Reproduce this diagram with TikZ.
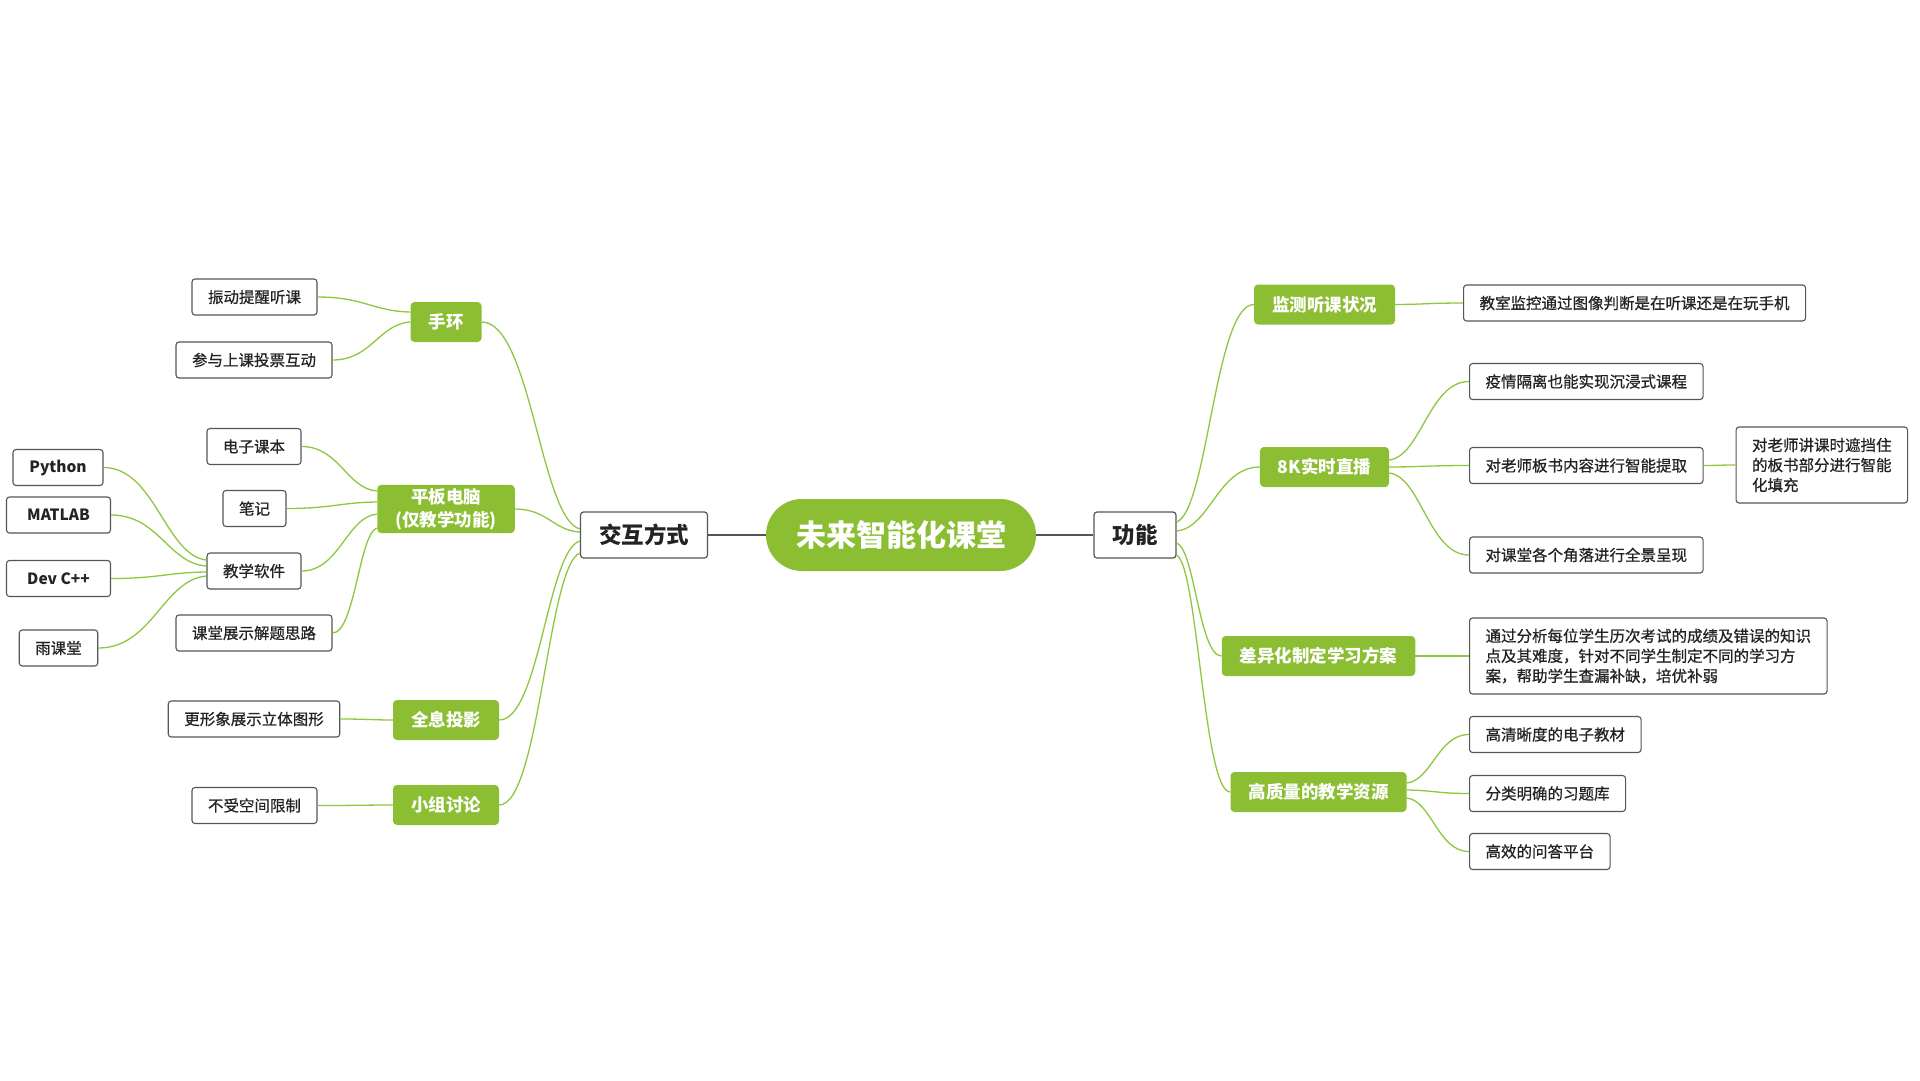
\documentclass[tikz,border=0pt]{standalone}
\usepackage{fontspec}
\setmainfont{Noto Sans CJK SC}
\newfontfamily\leaffont{Noto Sans CJK SC}[FakeBold=0.7]
\usepackage{tikz}
\usetikzlibrary{calc}

\definecolor{leafgreen}{RGB}{139,190,50}
\definecolor{linkgreen}{RGB}{141,198,63}
\definecolor{boxgray}{RGB}{85,85,85}
\definecolor{textgray}{RGB}{35,35,35}

\begin{document}
\begin{tikzpicture}[
  x=1pt, y=-1pt,
  root/.style={rectangle, rounded corners=36pt, fill=leafgreen, text=white,
               minimum width=270pt, minimum height=72pt, inner xsep=30pt,
               font=\fontsize{30}{36}\selectfont\bfseries},
  topic/.style={rectangle, draw=boxgray, line width=1.2pt, rounded corners=3pt,
                fill=white, text=textgray, minimum height=46pt, inner xsep=18.5pt,
                font=\fontsize{22.5}{27}\selectfont\bfseries},
  branch/.style={rectangle, rounded corners=4pt, fill=leafgreen, text=white,
                 minimum height=40pt, inner xsep=18pt, align=center,
                 font=\fontsize{17.5}{23}\selectfont\bfseries},
  leaf/.style={rectangle, draw=boxgray, line width=1.1pt, rounded corners=3pt,
               fill=white, text=textgray, minimum height=36pt, inner xsep=16pt,
               align=left, font=\leaffont\fontsize{15.5}{20}\selectfont},
  code/.style={leaf, font=\fontsize{15.5}{20}\selectfont\bfseries},
  trunk/.style={draw=boxgray, line width=2.2pt},
  link/.style={draw=linkgreen, line width=1.3pt,
    to path={let \p1=(\tikztostart), \p2=(\tikztotarget) in
      .. controls ({\x1+0.4*(\x2-\x1)},{\y1+0.05*(\y2-\y1)})
         and ({\x1+0.5*(\x2-\x1)},\y2) .. (\tikztotarget)}},
]
\useasboundingbox (0,0) rectangle (1920,1080);

% Centre and first level
\node[root] (center) at (901,535) {未来智能化课堂};
\node[topic] (jiaohu) at (644,535) {交互方式};
\node[topic] (gongneng) at (1135,535) {功能};

% Left: interaction
\node[branch] (shouhuan) at (446,322) {手环};
\node[leaf] (zhendong) at (254.5,297) {振动提醒听课};
\node[leaf] (toupiao) at (254,360) {参与上课投票互动};

\node[branch] (pingban) at (446,509) {平板电脑\\(仅教学功能)};
\node[leaf] (dianzi) at (254,446.5) {电子课本};
\node[leaf] (biji) at (254.5,508.5) {笔记};
\node[leaf] (ruanjian) at (254,571) {教学软件};
\node[leaf] (zhanshi) at (254,633) {课堂展示解题思路};
\node[code, minimum width=90pt] (python) at (58,467.5) {Python};
\node[code, minimum width=104pt] (matlab) at (58.5,515) {MATLAB};
\node[code, minimum width=104pt] (devcpp) at (58.5,578.5) {Dev C++};
\node[leaf] (yuketang) at (58.5,648) {雨课堂};

\node[branch] (quanxi) at (446,720) {全息投影};
\node[leaf] (lijiao) at (254,719) {更形象展示立体图形};
\node[branch] (xiaozu) at (446,805) {小组讨论};
\node[leaf] (kongjian) at (254.5,805.5) {不受空间限制};

% Right: functions
\node[branch] (jiance) at (1324.5,304.5) {监测听课状况};
\node[leaf, anchor=west, minimum width=336pt] (jiankong) at (1463,303) {教室监控通过图像判断是在听课还是在玩手机};

\node[branch] (zhibo) at (1324.5,467) {8K实时直播};
\node[leaf, anchor=west, minimum width=231pt] (yiqing) at (1469,381.5) {疫情隔离也能实现沉浸式课程};
\node[leaf, anchor=west, minimum width=231pt] (tiqu) at (1469,465.5) {对老师板书内容进行智能提取};
\node[leaf, anchor=west, minimum height=76pt] (tianchong) at (1735.5,465) {对老师讲课时遮挡住\\的板书部分进行智能\\化填充};
\node[leaf, anchor=west, minimum width=231pt] (quanjing) at (1469,555) {对课堂各个角落进行全景呈现};

\node[branch] (chayi) at (1318.5,656) {差异化制定学习方案};
\node[leaf, anchor=west, minimum height=76pt] (fangan) at (1469,656) {通过分析每位学生历次考试的成绩及错误的知识\\点及其难度，针对不同学生制定不同的学习方\\案，帮助学生查漏补缺，培优补弱};

\node[branch] (ziyuan) at (1318.5,792) {高质量的教学资源};
\node[leaf, anchor=west] (jiaocai) at (1469,734.5) {高清晰度的电子教材};
\node[leaf, anchor=west] (tiku) at (1469,793.5) {分类明确的习题库};
\node[leaf, anchor=west] (wenda) at (1469,851.5) {高效的问答平台};

% Trunk connections
\draw[trunk] (center.west) -- (jiaohu.east);
\draw[trunk] (center.east) -- (gongneng.west);

% Left branches
\draw[link] (jiaohu.west |- 0,529) to (shouhuan.east);
\draw[link] (jiaohu.west |- 0,532) to (pingban.east);
\draw[link] (jiaohu.west |- 0,541) to (quanxi.east);
\draw[link] (jiaohu.west |- 0,553) to (xiaozu.east);

\draw[link] (shouhuan.west |- 0,312) to (zhendong.east);
\draw[link] (shouhuan.west |- 0,322) to (toupiao.east);

\draw[link] (pingban.west |- 0,491) to (dianzi.east);
\draw[link] (pingban.west |- 0,502) to (biji.east);
\draw[link] (pingban.west |- 0,514) to (ruanjian.east);
\draw[link] (pingban.west |- 0,528) to (zhanshi.east);

\draw[link] (ruanjian.west |- 0,560) to (python.east);
\draw[link] (ruanjian.west |- 0,566) to (matlab.east);
\draw[link] (ruanjian.west |- 0,572) to (devcpp.east);
\draw[link] (ruanjian.west |- 0,576) to (yuketang.east);

\draw[link] (quanxi.west) to (lijiao.east);
\draw[link] (xiaozu.west) to (kongjian.east);

% Right branches
\draw[link] (gongneng.east |- 0,522) to (jiance.west);
\draw[link] (gongneng.east |- 0,531) to (zhibo.west);
\draw[link] (gongneng.east |- 0,543) to (chayi.west);
\draw[link] (gongneng.east |- 0,555) to (ziyuan.west);

\draw[link] (jiance.east) to (jiankong.west);

\draw[link] (zhibo.east |- 0,460) to (yiqing.west);
\draw[link] (zhibo.east |- 0,467) to (tiqu.west);
\draw[link] (zhibo.east |- 0,473) to (quanjing.west);
\draw[link] (tiqu.east) to (tianchong.west);

\draw[link] (chayi.east) to (fangan.west);

\draw[link] (ziyuan.east |- 0,783) to (jiaocai.west);
\draw[link] (ziyuan.east |- 0,790) to (tiku.west);
\draw[link] (ziyuan.east |- 0,798) to (wenda.west);

\end{tikzpicture}
\end{document}
